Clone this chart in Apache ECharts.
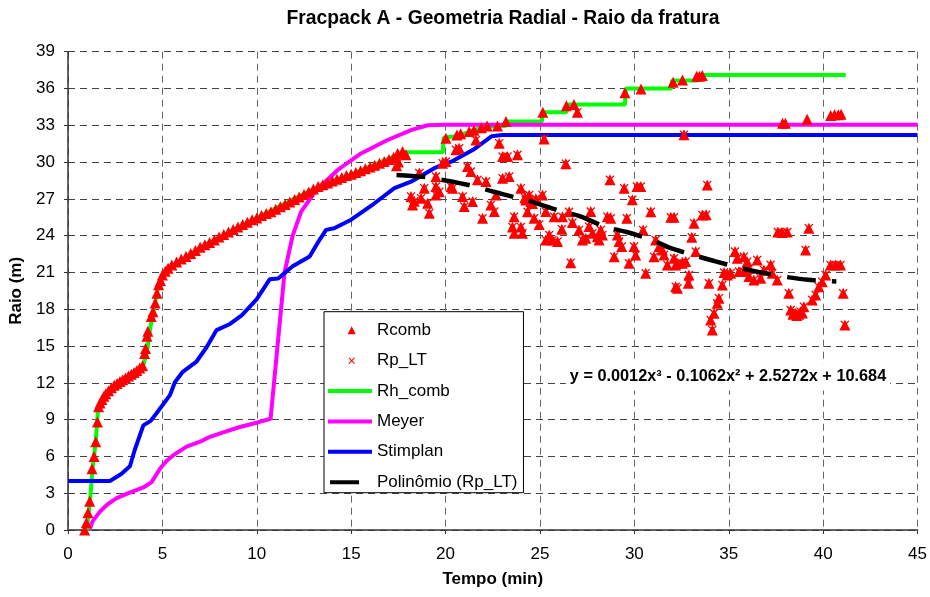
<!DOCTYPE html>
<html>
<head>
<meta charset="utf-8">
<script src="https://cdn.jsdelivr.net/npm/echarts@6/dist/echarts.min.js"></script>
<style>html,body{margin:0;padding:0;background:#fff}#chart{width:930px;height:597px}</style>
</head>
<body>
<div id="chart"></div>
<script>
// ---- Data (time in min, radius in m) ----
const chartTitle = 'Fracpack A - Geometria Radial - Raio da fratura';
const xName = 'Tempo (min)';
const yName = 'Raio (m)';
const xMin = 0, xMax = 45, xStep = 5;
const yMin = 0, yMax = 39, yStep = 3;
const equationText = 'y = 0.0012x³ - 0.1062x² + 2.5272x + 10.684';

// Rcomb triangles (combined radius)
const rcombPts = [
  [0.88,0.0],[0.97,0.6],[1.06,1.4],[1.15,2.35],[1.27,5.0],[1.38,6.0],[1.47,7.2],[1.56,8.8],[1.62,10.05],
  [1.7,10.35],[1.8,10.65],[1.9,10.9],[2.0,11.1],[2.15,11.35],[2.3,11.6],[2.45,11.8],[2.6,11.95],[2.75,12.1],
  [2.9,12.25],[3.05,12.4],[3.2,12.55],[3.35,12.7],[3.5,12.85],[3.65,13.0],[3.8,13.2],[3.95,13.4],
  [4.06,14.4],[4.11,14.8],[4.18,15.8],[4.23,16.2],[4.41,17.4],[4.5,17.8],[4.62,18.5],[4.71,19.3],
  [4.8,20.0],[4.9,20.35],[5.0,20.8],[5.15,21.1],[5.3,21.35],[5.5,21.6],[5.75,21.85],[6.0,22.1],[6.25,22.3],
  [6.5,22.55],[6.75,22.8],[7.0,23.05],[7.25,23.25],[7.5,23.45],[7.75,23.65],[8.0,23.9],[8.25,24.1],[8.5,24.3],
  [8.75,24.5],[9.0,24.7],[9.25,24.9],[9.5,25.1],[9.75,25.3],[10.0,25.45],[10.25,25.65],[10.5,25.8],[10.75,25.95],
  [11.0,26.15],[11.25,26.35],[11.5,26.55],[11.75,26.75],[12.0,26.95],[12.25,27.15],[12.5,27.35],[12.75,27.55],
  [13.0,27.8],[13.25,28.0],[13.5,28.15],[13.75,28.3],[14.0,28.45],[14.25,28.6],[14.5,28.75],[14.75,28.9],
  [15.0,29.0],[15.25,29.15],[15.5,29.3],[15.75,29.45],[16.0,29.6],[16.25,29.75],[16.5,29.9],[16.75,30.05],
  [17.0,30.2],[17.25,30.4],[17.46,30.7],[17.72,30.86],[17.9,30.6],
  [20.02,31.95],[20.6,32.2],[20.8,32.3],[21.25,32.5],[21.5,32.6],[21.9,32.8],[22.2,32.95],[22.75,32.95],
  [23.2,33.3],[25.15,34.07],[26.4,34.6],[26.8,34.7],[29.5,35.66],[30.35,35.95],[32.05,36.5],[32.55,36.7],
  [33.3,37.0],[33.45,37.0],[33.6,37.05],[37.85,33.17],[38.0,33.17],[39.15,33.5],[40.4,33.8],[40.6,33.85],
  [40.8,33.85],[40.95,33.9]
];

// Rp_LT scattered points
const rpLtPts = [
  [17.4,29.7],[17.5,30.0],[18.17,27.2],[18.25,26.5],[18.34,26.8],[18.61,29.1],[18.7,27.06],[18.87,27.87],
  [19.05,26.65],[19.14,25.83],[19.49,28.82],[19.49,28.0],[19.49,27.32],[19.67,27.59],[19.84,29.91],[20.02,30.04],
  [20.29,28.0],[20.37,27.87],[20.55,31.0],[20.72,31.13],[20.9,27.19],[20.99,26.37],[21.16,29.63],[21.34,29.23],
  [21.43,26.78],[21.61,31.81],[21.69,28.55],[21.96,25.42],[22.14,28.41],[22.4,26.51],[22.58,25.96],[22.67,27.32],
  [22.84,31.54],[23.02,30.45],[23.02,28.69],[23.28,30.45],[23.37,28.82],[23.54,24.71],[23.63,25.55],[23.63,24.2],
  [23.81,30.59],[23.99,27.87],[23.99,24.71],[24.07,24.2],[24.2,27.1],[24.25,26.9],[24.34,25.94],[24.43,27.32],
  [24.52,26.78],[24.6,26.62],[24.69,25.42],[24.78,27.0],[24.96,24.92],[25.13,27.32],[25.22,31.89],[25.31,25.96],
  [25.31,23.65],[25.49,24.06],[25.66,23.65],[25.75,25.55],[25.93,23.52],[26.16,24.53],[26.19,25.55],[26.37,29.87],
  [26.54,25.94],[26.63,21.8],[26.72,25.07],[26.98,34.07],[27.07,24.47],[27.25,23.65],[27.43,23.79],[27.6,24.74],
  [27.69,25.96],[27.78,24.2],[28.04,23.92],[28.13,23.65],[28.22,24.47],[28.31,24.06],[28.57,25.55],[28.71,28.55],
  [28.75,25.42],[28.93,22.29],[29.1,24.06],[29.19,23.52],[29.33,23.11],[29.46,27.87],[29.6,25.42],[29.72,21.75],
  [29.89,26.92],[29.98,23.11],[30.07,22.43],[30.14,28.0],[30.34,28.0],[30.46,24.47],[30.6,20.94],[30.87,25.94],
  [31.04,22.29],[31.13,23.65],[31.31,23.11],[31.48,22.84],[31.57,22.43],[31.75,21.61],[31.93,25.5],[32.1,25.5],
  [32.1,22.16],[32.19,21.61],[32.19,19.84],[32.28,21.75],[32.28,19.71],[32.54,21.75],[32.63,32.22],[32.72,21.89],
  [32.86,20.12],[32.89,20.8],[33.04,23.87],[33.16,25.02],[33.25,22.7],[33.6,25.69],[33.8,25.7],[33.86,28.14],
  [33.95,20.12],[34.04,17.13],[34.13,16.31],[34.22,17.67],[34.39,18.49],[34.48,18.9],[34.66,19.98],[34.75,20.99],
  [34.92,20.8],[35.1,20.94],[35.33,22.7],[35.45,22.16],[35.54,21.07],[35.8,22.29],[35.8,21.07],[35.98,21.88],
  [36.07,21.35],[36.07,20.66],[36.33,20.39],[36.51,22.02],[36.69,20.53],[36.86,21.21],[37.22,21.62],[37.3,20.94],
  [37.57,20.39],[37.6,24.3],[37.83,24.25],[38.1,24.3],[38.18,19.3],[38.28,17.94],[38.4,17.6],[38.54,17.68],
  [38.6,17.5],[38.7,17.6],[38.8,17.8],[38.9,17.7],[38.98,18.21],[39.07,22.84],[39.24,24.61],[39.42,18.76],
  [39.6,19.17],[39.77,19.84],[39.95,20.25],[40.13,20.8],[40.39,21.61],[40.66,21.61],[40.92,21.61],[41.06,19.3],
  [41.15,16.72]
];

// Rh_comb (green)
const rhCombPts = [
  [1.0,0.0],[1.17,2.4],[1.3,5.0],[1.47,7.2],[1.6,10.0],[2.2,11.4],[3.0,12.3],[4.0,13.45],[4.2,14.7],[4.35,16.4],
  [4.57,18.2],[4.78,19.8],[5.0,20.8],[7.0,23.05],[10.0,25.45],[13.0,27.8],[15.0,29.0],[17.5,30.6],[17.7,30.8],
  [19.85,30.8],[19.9,32.0],[20.6,32.1],[21.3,32.5],[22.0,32.85],[22.8,32.95],[23.2,32.95],[23.25,33.3],
  [25.1,33.3],[25.15,34.07],[26.4,34.07],[26.5,34.7],[29.5,34.7],[29.55,36.0],[31.95,36.0],[32.0,36.65],
  [33.35,36.65],[33.5,37.1],[41.2,37.1]
];

// Meyer (magenta)
const meyerPts = [
  [1.16,0.1],[1.3,0.7],[1.69,1.5],[2.1,2.1],[2.58,2.6],[3.2,3.0],[3.99,3.47],[4.43,3.9],[4.87,5.0],[5.2,5.6],
  [5.58,6.1],[6.28,6.8],[7.0,7.2],[7.52,7.6],[8.3,8.0],[9.1,8.4],[10.0,8.75],[10.73,9.07],[11.47,21.0],
  [11.9,24.0],[12.35,25.96],[13.14,27.7],[14.29,29.36],[15.52,30.7],[16.93,31.8],[18.17,32.6],[19.05,33.0],
  [20.0,33.05],[45.0,33.05]
];

// Stimplan (blue)
const stimplanPts = [
  [0.0,4.0],[2.22,4.0],[2.82,4.57],[3.28,5.2],[3.53,6.5],[3.99,8.53],[4.38,8.9],[4.68,9.5],[5.4,11.0],[5.66,12.05],
  [6.08,12.9],[6.79,13.7],[7.34,14.9],[7.87,16.3],[8.58,16.8],[9.2,17.5],[9.99,18.8],[10.69,20.45],[11.13,20.5],
  [11.9,21.5],[12.8,22.3],[13.3,23.6],[13.67,24.47],[14.1,24.6],[15.0,25.3],[16.2,26.6],[17.29,27.87],[18.17,28.4],
  [19.4,29.5],[20.4,30.1],[21.46,31.0],[22.43,32.1],[23.0,32.2],[45.0,32.2]
];

// Polynomial trend of Rp_LT (black dashed)
const trendPts = [
  [17.4,28.95],[18.8,28.8],[20.0,28.5],[21.3,28.1],[22.5,27.6],[23.75,27.1],[24.7,26.7],[26.1,26.0],[27.1,25.6],
  [28.5,24.7],[29.6,24.3],[31.0,23.6],[31.9,23.0],[33.4,22.3],[34.3,21.9],[35.8,21.3],[36.7,21.0],[38.2,20.6],
  [39.2,20.4],[40.7,20.26]
];

const seriesNames = ['Rcomb','Rp_LT','Rh_comb','Meyer','Stimplan','Polinômio (Rp_LT)'];
const seriesColors = ['#FF0000','#FF0000','#00FF00','#FF00FF','#0000FF','#000000'];

const crossPath = 'path://M1,0L5,4L9,0L10,1L6,5L10,9L9,10L5,6L1,10L0,9L4,5L0,1Z';
// legend icons, drawn inside a 44x9 box
const iconTri = 'path://M0,4.5L0.01,4.5M19.7,9L23.7,1L27.7,9ZM44,4.5L44.01,4.5';
const iconCross = 'path://M0,0L0.01,0M20.5,2.2L21.2,1.5L23.7,4L26.2,1.5L26.9,2.2L24.4,4.7L26.9,7.2L26.2,7.9L23.7,5.4L21.2,7.9L20.5,7.2L23,4.7ZM44,9L44.01,9';
const iconLine = 'path://M0,0L0.01,0M0,2.5L44,2.5L44,6.5L0,6.5ZM0,9L0.01,9';
const iconShort = 'path://M0,0L0.01,0M2,2.5L31,2.5L31,6.5L2,6.5ZM44,9L44.01,9';
const FONT = '"Liberation Sans", Arial, sans-serif';

const chart = echarts.init(document.getElementById('chart'), null, {renderer: 'canvas'});
chart.setOption({
  animation: false,
  backgroundColor: '#fff',
  textStyle: {fontFamily: FONT},
  grid: {left: 68, right: 11.5, top: 51.7, bottom: 67, containLabel: false},
  xAxis: {
    type: 'value', min: xMin, max: xMax, interval: xStep,
    name: xName, nameLocation: 'middle', nameGap: 41,
    nameTextStyle: {fontSize: 17, fontWeight: 'bold', color: '#000', fontFamily: FONT, verticalAlign: 'top'},
    axisLine: {show: true, onZero: false, lineStyle: {color: '#333', width: 1.5}},
    axisTick: {show: true, inside: false, length: 4, lineStyle: {color: '#333'}},
    axisLabel: {fontSize: 17, color: '#000', margin: 16, fontFamily: FONT},
    splitLine: {show: true, lineStyle: {color: '#666', width: 1, type: [7, 5]}}
  },
  yAxis: {
    type: 'value', min: yMin, max: yMax, interval: yStep,
    name: yName, nameLocation: 'middle', nameGap: 27, nameRotate: 90,
    nameTextStyle: {fontSize: 17, fontWeight: 'bold', color: '#000', fontFamily: FONT},
    axisLine: {show: true, onZero: false, lineStyle: {color: '#333', width: 1.5}},
    axisTick: {show: true, inside: false, length: 4, lineStyle: {color: '#333'}},
    axisLabel: {fontSize: 17, color: '#000', margin: 13, fontFamily: FONT},
    splitLine: {show: true, lineStyle: {color: '#444', width: 1, type: [7, 5]}}
  },
  legend: {
    orient: 'vertical', left: 324, top: 311.7,
    padding: [10, 6, 2, 4], itemGap: 13.4, itemWidth: 44, itemHeight: 9,
    backgroundColor: '#fff', borderColor: '#000', borderWidth: 1,
    selectedMode: false,
    lineStyle: {type: 'solid'},
    itemStyle: {borderType: 'solid'},
    textStyle: {fontSize: 17, color: '#000', fontFamily: FONT},
    data: [
      {name: seriesNames[0], icon: iconTri},
      {name: seriesNames[1], icon: iconCross},
      {name: seriesNames[2], icon: iconLine},
      {name: seriesNames[3], icon: iconLine},
      {name: seriesNames[4], icon: iconLine},
      {name: seriesNames[5], icon: iconShort}
    ]
  },
  graphic: [
    {type: 'text', z: 100, x: 503, y: 19,
     style: {text: chartTitle, font: 'bold 19.3px ' + FONT, fill: '#000', textAlign: 'center', textVerticalAlign: 'middle'}},
    {type: 'text', z: 100, x: 728, y: 377,
     style: {text: equationText, font: 'bold 16.3px ' + FONT, fill: '#000', textAlign: 'center', textVerticalAlign: 'middle',
             backgroundColor: '#fff', padding: [5, 4, 6, 4]}}
  ],
  series: [
    {name: seriesNames[2], type: 'line', data: rhCombPts, symbol: 'none', z: 2,
     lineStyle: {color: seriesColors[2], width: 4}, itemStyle: {color: seriesColors[2]}},
    {name: seriesNames[3], type: 'line', data: meyerPts, symbol: 'none', z: 2,
     lineStyle: {color: seriesColors[3], width: 4}, itemStyle: {color: seriesColors[3]}},
    {name: seriesNames[4], type: 'line', data: stimplanPts, symbol: 'none', z: 2,
     lineStyle: {color: seriesColors[4], width: 4}, itemStyle: {color: seriesColors[4]}},
    {name: seriesNames[0], type: 'scatter', data: rcombPts.concat(rpLtPts), symbol: 'triangle', symbolSize: 11, z: 3,
     itemStyle: {color: seriesColors[0], opacity: 1}},
    {name: seriesNames[1], type: 'scatter', data: rpLtPts, symbol: crossPath, symbolSize: 9, z: 3,
     itemStyle: {color: seriesColors[1], opacity: 1}},
    {name: seriesNames[5], type: 'line', data: trendPts, symbol: 'none', smooth: 0.3, z: 4,
     lineStyle: {color: seriesColors[5], width: 4.5, type: [29, 16]}, itemStyle: {color: seriesColors[5]}}
  ]
});
</script>
</body>
</html>
